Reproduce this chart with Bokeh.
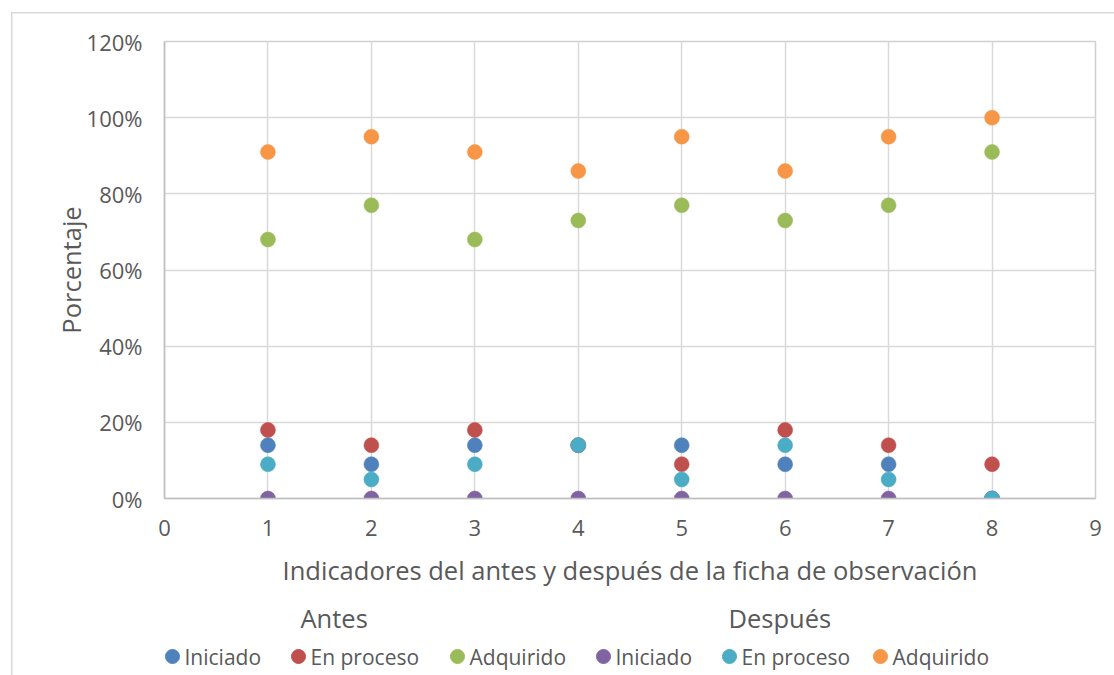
from bokeh.plotting import figure
from bokeh.layouts import column
from bokeh.models import FixedTicker, NumeralTickFormatter, ColumnDataSource
from bokeh.core.properties import value
from bokeh.embed import file_html
from bokeh.resources import INLINE

# ---- data ----
indicadores = [1, 2, 3, 4, 5, 6, 7, 8]
antes_iniciado = [0.14, 0.09, 0.14, 0.14, 0.14, 0.09, 0.09, 0.00]
antes_en_proceso = [0.18, 0.14, 0.18, 0.14, 0.09, 0.18, 0.14, 0.09]
antes_adquirido = [0.68, 0.77, 0.68, 0.73, 0.77, 0.73, 0.77, 0.91]
despues_iniciado = [0.00, 0.00, 0.00, 0.00, 0.00, 0.00, 0.00, 0.00]
despues_en_proceso = [0.09, 0.05, 0.09, 0.14, 0.05, 0.14, 0.05, 0.00]
despues_adquirido = [0.91, 0.95, 0.91, 0.86, 0.95, 0.86, 0.95, 1.00]

series_labels = ["Iniciado", "En proceso", "Adquirido", "Iniciado", "En proceso", "Adquirido"]
group_labels = ["Antes", "Después"]
x_ticks = [0, 1, 2, 3, 4, 5, 6, 7, 8, 9]
y_ticks = [0, 0.2, 0.4, 0.6, 0.8, 1.0, 1.2]
x_title = "Indicadores del antes y después de la ficha de observación"
y_title = "Porcentaje"

series = [antes_iniciado, antes_en_proceso, antes_adquirido,
          despues_iniciado, despues_en_proceso, despues_adquirido]
colors = ["#4F81BD", "#C0504D", "#9BBB59", "#8064A2", "#4BACC6", "#F79646"]

FONT = "Open Sans"
TXT = "#595959"
W = 1114
FL, FR = 164, 1095          # frame left / right in pixels (shared by both panels)

p = figure(width=W, height=592, x_range=(0, 9), y_range=(0, 1.2),
           output_backend="svg", toolbar_location=None,
           min_border_left=FL, min_border_right=W - FR, min_border_top=41, min_border_bottom=94)
p.outline_line_color = "#D0D0D0"
p.outline_line_width = 1.5
p.border_fill_color = None

p.xaxis.ticker = FixedTicker(ticks=x_ticks)
p.yaxis.ticker = FixedTicker(ticks=y_ticks)
p.yaxis.formatter = NumeralTickFormatter(format="0%")
for ax in (p.xaxis[0], p.yaxis[0]):
    ax.major_tick_line_color = None
    ax.minor_tick_line_color = None
    ax.axis_line_color = "#BFBFBF"
    ax.axis_line_width = 1.5
    ax.major_label_text_font = FONT
    ax.major_label_text_font_size = "22px"
    ax.major_label_text_color = TXT
    ax.axis_label_text_font = FONT
    ax.axis_label_text_font_size = "25.5px"
    ax.axis_label_text_font_style = "normal"
    ax.axis_label_text_color = TXT
p.xaxis.axis_label = x_title
p.yaxis.axis_label = y_title
p.xaxis.major_label_standoff = 15
p.yaxis.major_label_standoff = 16
p.xaxis.axis_label_standoff = 14
p.yaxis.axis_label_standoff = -4

p.xgrid.ticker = FixedTicker(ticks=x_ticks)
p.ygrid.ticker = FixedTicker(ticks=y_ticks)
p.xgrid.grid_line_color = "#D9D9D9"
p.ygrid.grid_line_color = "#D9D9D9"
p.xgrid.grid_line_width = 1.5
p.ygrid.grid_line_width = 1.5

for vals, col in zip(series, colors):
    src = ColumnDataSource(dict(x=indicadores, y=vals))
    p.scatter("x", "y", source=src, size=15, fill_color=col, line_color=col, line_width=0.5)

# ---- legend strip below the chart (pixel coordinates) ----
LH = 83
lp = figure(width=W, height=LH, x_range=(FL, FR), y_range=(0, LH),
            output_backend="svg", toolbar_location=None,
            min_border_left=FL, min_border_right=W - FR, min_border_top=0, min_border_bottom=0)
lp.axis.visible = False
lp.grid.visible = False
lp.outline_line_color = None
lp.border_fill_color = None

marker_x = [172, 298, 457, 603, 729, 880]
row_y = 19
leg_src = ColumnDataSource(dict(
    mx=marker_x, my=[row_y] * 6, tx=[m + 12 for m in marker_x], label=series_labels, color=colors))
lp.scatter("mx", "my", source=leg_src, size=14, fill_color="color", line_color="color")
lp.text("tx", "my", text="label", source=leg_src, text_font=value(FONT), text_font_size="21px",
        text_color=TXT, text_baseline="middle", text_align="left")

grp_src = ColumnDataSource(dict(x=[300, 728], y=[58, 58], label=group_labels))
lp.text("x", "y", text="label", source=grp_src, text_font=value(FONT), text_font_size="25.5px",
        text_color=TXT, text_baseline="middle", text_align="left")

# light chart-area border (left and top edges) drawn behind the transparent figures
border_bg = ("linear-gradient(#D9D9D9, #D9D9D9) 11px 12px / 1.5px 100% no-repeat, "
             "linear-gradient(#D9D9D9, #D9D9D9) 11px 12px / 100% 1.5px no-repeat, white")
layout = column(p, lp, spacing=0, styles={"background": border_bg})
open("out.html", "w").write(file_html(layout, INLINE))
